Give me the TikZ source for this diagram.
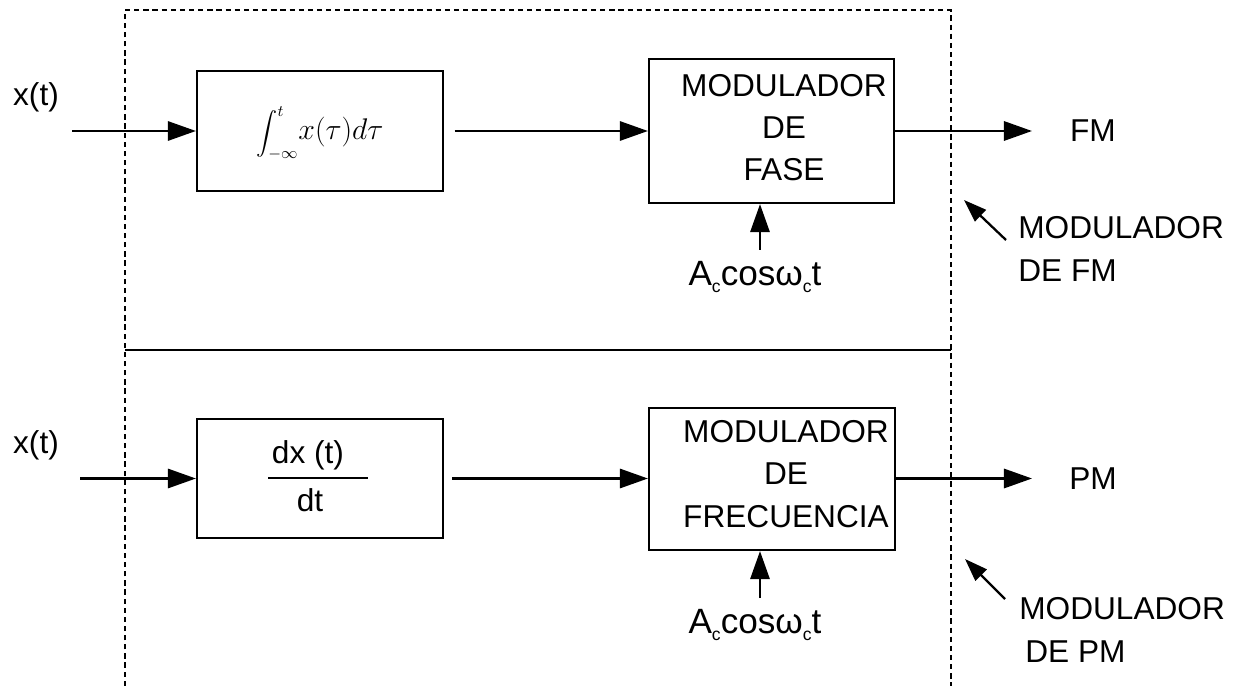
\documentclass[tikz,border=0pt]{standalone}
\usepackage{fix-cm}
\usepackage{amsmath}
\usepackage{fontspec}
\setmainfont{Liberation Sans}
\usetikzlibrary{arrows.meta}
\newcommand\lowsub[1]{\raisebox{-4.5pt}{\fontsize{10}{10}\selectfont #1}}
\begin{document}
\begin{tikzpicture}[x=0.02cm,y=-0.02cm,
  every node/.style={font=\fontsize{18}{24}\selectfont},
  blk/.style={draw,line width=1.3pt,inner sep=0pt},
  arr/.style={line width=1.3pt,-{Triangle[length=16pt,width=11pt]}},
  sarr/.style={line width=1.3pt,-{Triangle[length=13pt,width=9pt]}},
  dbox/.style={line width=0.8pt,dash pattern=on 3pt off 2.2pt},
  txt/.style={inner sep=0pt,align=center},
  carrier/.style={inner sep=0pt,font=\fontsize{20}{24}\selectfont},
  ltxt/.style={inner sep=0pt,align=left,anchor=west}]
\useasboundingbox (0,0) rectangle (1242,686);

% dashed frames
\draw[dbox] (125,686) -- (125,10) -- (951,10) -- (951,686);
\draw[line width=1.4pt] (125,350) -- (951,350);

% ---------- top: FM modulator ----------
\node[blk,minimum width=4.92cm,minimum height=2.4cm] (int) at (320,131) {};
\node[txt] (inttxt) at (320,133) {{\fontsize{13}{15}\selectfont$\displaystyle\int_{-\infty}^{t}$}{\fontsize{17}{20}\selectfont$x(\tau)d\tau$}};
\node[blk,minimum width=4.9cm,minimum height=2.88cm] (mod1) at (771.5,131) {};
\node[txt] (mod1txt) at (784,127.5) {MODULADOR\\DE\\FASE};

\node[txt] (x1) at (36,97) {x(t)};
\coordinate (in1) at (72,131);
\draw[arr] (in1) -- (int.west);
\draw[arr,shorten <=6pt] (int.east) -- (mod1.west);
\coordinate (out1) at (1032,131);
\draw[arr] (mod1.east) -- (out1);
\node[txt] (fm) at (1093,131) {FM};

\coordinate (c1) at (760,250);
\draw[arr] (c1) -- (c1 |- mod1.south);
\node[carrier] (ac1) at (755,277) {A\lowsub{c}cosω\lowsub{c}t};

\coordinate (d1t) at (1006,240);
\coordinate (d1h) at (964,200);
\draw[sarr] (d1t) -- (d1h);
\node[ltxt] (lab1) at (1018,249) {MODULADOR\\DE FM};

% ---------- bottom: PM modulator ----------
\node[blk,minimum width=4.92cm,minimum height=2.38cm] (der) at (320,478.5) {};
\node[txt] (num) at (308,455) {dx (t)};
\node[txt] (den) at (310,500) {dt};
\draw[line width=1.3pt] (268,478) -- (368,478);
\node[blk,minimum width=4.92cm,minimum height=2.84cm] (mod2) at (772,479) {};
\node[txt] (mod2txt) at (786,474) {MODULADOR\\DE\\FRECUENCIA};

\node[txt] (x2) at (36,445) {x(t)};
\coordinate (in2) at (80,478.5);
\draw[arr] (in2) -- (der.west);
\draw[arr,shorten <=4.5pt] (der.east) -- (mod2.west |- der.east);
\coordinate (out2) at (1032,478.5);
\draw[arr] (out2 -| mod2.east) -- (out2);
\node[txt] (pm) at (1093,478.5) {PM};

\coordinate (c2) at (760,598);
\draw[arr] (c2) -- (c2 |- mod2.south);
\node[carrier] (ac2) at (755,625) {A\lowsub{c}cosω\lowsub{c}t};

\coordinate (d2t) at (1005,599);
\coordinate (d2h) at (965,559);
\draw[sarr] (d2t) -- (d2h);
\node[ltxt] (lab2) at (1019,630) {MODULADOR\\\hspace{3.4pt}DE PM};
\end{tikzpicture}
\end{document}
